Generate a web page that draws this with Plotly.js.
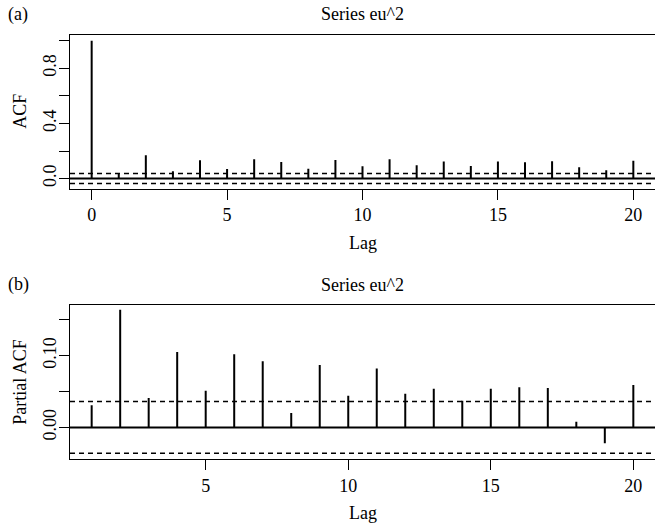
<!DOCTYPE html>
<html>
<head>
<meta charset="utf-8">
<script src="https://cdn.plot.ly/plotly-3.0.1.min.js"></script>
<style>html,body{margin:0;padding:0;background:#fff;}#chart{width:655px;height:523px;}</style>
</head>
<body>
<div id="chart"></div>
<script>
// ---- data ----
const acfLags = [0,1,2,3,4,5,6,7,8,9,10,11,12,13,14,15,16,17,18,19,20];
const acfValues = [1.0,0.038,0.169,0.053,0.132,0.070,0.140,0.120,0.072,0.135,0.089,0.140,0.096,0.123,0.092,0.123,0.118,0.125,0.082,0.060,0.130];
const pacfLags = [1,2,3,4,5,6,7,8,9,10,11,12,13,14,15,16,17,18,19,20];
const pacfValues = [0.031,0.164,0.041,0.105,0.051,0.102,0.092,0.020,0.087,0.044,0.082,0.047,0.054,0.037,0.054,0.056,0.055,0.008,-0.022,0.059];
const ciBound = 0.036;
const seriesTitle = "Series eu^2";
const xTitle = "Lag";
const acfYTitle = "ACF";
const pacfYTitle = "Partial ACF";
const acfTickVals = [0,0.2,0.4,0.6,0.8,1.0];
const acfTickText = ["0.0","","0.4","","0.8",""];
const pacfTickVals = [0,0.05,0.10,0.15];
const pacfTickText = ["0.00","","0.10",""];
const acfXTicks = [0,5,10,15,20];
const pacfXTicks = [5,10,15,20];

function spikes(lags, vals){
  const x=[], y=[];
  lags.forEach((l,i)=>{x.push(l,l,null); y.push(0,vals[i],null);});
  return {x,y};
}
const a = spikes(acfLags, acfValues);
const p = spikes(pacfLags, pacfValues);

function F(){ return {family:"Liberation Serif", size:18, color:"#000"}; }
const traces = [
  {x:a.x, y:a.y, xaxis:"x", yaxis:"y", mode:"lines", line:{color:"#000", width:2}, hoverinfo:"skip", showlegend:false},
  {x:p.x, y:p.y, xaxis:"x2", yaxis:"y2", mode:"lines", line:{color:"#000", width:2}, hoverinfo:"skip", showlegend:false}
];

function hline(yref, xref, val, dash){
  return {type:"line", xref:xref+" domain", yref:yref, x0:0, x1:1, y0:val, y1:val,
          line:{color:"#000", width: dash? 1.5 : 2, dash: dash? "5px,4px" : "solid"}, layer:"above"};
}

function axis(extra){
  return Object.assign({showgrid:false, zeroline:false, showline:true, mirror:true, linecolor:"#000", linewidth:1,
    ticks:"outside", ticklen:10, tickcolor:"#000", tickwidth:1, tickfont:F(), fixedrange:true}, extra);
}

function note(text, xref, yref, x, y, xs, ys, angle){
  return {text:text, xref:xref, yref:yref, x:x, y:y, xshift:xs, yshift:ys, textangle:angle||0,
          xanchor:"center", yanchor:"middle", showarrow:false, font:F()};
}

const layout = {
  width:655, height:523,
  margin:{l:70, r:0, t:35, b:64},
  paper_bgcolor:"#fff", plot_bgcolor:"#fff",
  font:F(), showlegend:false,
  xaxis:axis({anchor:"y", range:[-0.8,20.8], tickmode:"array", tickvals:acfXTicks, ticktext:acfXTicks.map(String)}),
  yaxis:axis({domain:[0.6375,1], range:[-0.0735,1.0415], tickmode:"array", tickvals:acfTickVals,
     ticktext:acfTickText, tickangle:-90, ticklabelstandoff:-4}),
  xaxis2:axis({anchor:"y2", range:[0.24,20.76], tickmode:"array", tickvals:pacfXTicks, ticktext:pacfXTicks.map(String)}),
  yaxis2:axis({domain:[0,0.364], range:[-0.044,0.171], tickmode:"array", tickvals:pacfTickVals,
     ticktext:pacfTickText, tickangle:-90, ticklabelstandoff:-4}),
  shapes:[
    hline("y","x",0,false), hline("y","x",ciBound,true), hline("y","x",-ciBound,true),
    hline("y2","x2",0,false), hline("y2","x2",ciBound,true), hline("y2","x2",-ciBound,true)
  ],
  annotations:[
    note(seriesTitle, "x domain", "y domain", 0.5, 1, 0, 21),
    note(seriesTitle, "x2 domain", "y2 domain", 0.5, 1, 0, 20),
    note("(a)", "paper", "y domain", 0, 1, -52, 21),
    note("(b)", "paper", "y2 domain", 0, 1, -52, 20),
    note(xTitle, "x domain", "y domain", 0.5, 0, 0, -54),
    note(xTitle, "x2 domain", "y2 domain", 0.5, 0, 0, -54),
    note(acfYTitle, "paper", "y domain", 0, 0.5, -50, 0, -90),
    note(pacfYTitle, "paper", "y2 domain", 0, 0.5, -50, 0, -90)
  ]
};
Plotly.newPlot("chart", traces, layout, {staticPlot:true, displayModeBar:false});
</script>
</body>
</html>
